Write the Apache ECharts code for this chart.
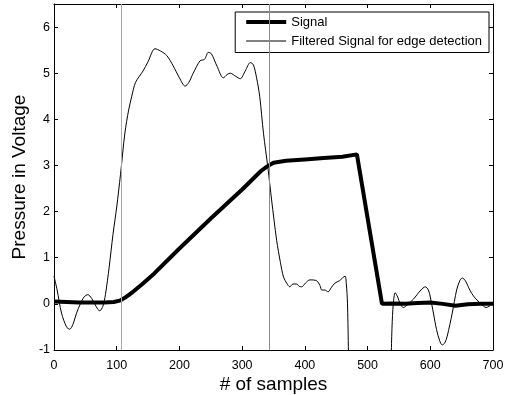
<!DOCTYPE html>
<html>
<head>
<meta charset="utf-8">
<script src="https://cdn.jsdelivr.net/npm/echarts@6/dist/echarts.min.js"></script>
<style>
html,body{margin:0;padding:0;background:#fff;}
#c{width:512px;height:395px;}
</style>
</head>
<body>
<div id="c"></div>
<script>
var signalX = [0,20,40,60,80,95,105,115,125,140,160,200,250,300,330,340,350,370,400,430,460,483,523,540,560,580,600,620,640,660,680,700];
var signalY = [0.05,0.04,0.03,0.03,0.03,0.04,0.07,0.15,0.25,0.42,0.66,1.2,1.85,2.48,2.88,2.98,3.06,3.1,3.13,3.16,3.19,3.24,0,0.01,0.0,0.02,0.03,0.0,-0.04,-0.01,0.0,0.0];

var filteredX = [0,5,12,20,25,30,36,42,48,54,60,65,70,73,78,82,88,94,100,106,113,119,124,130,142,150,161,170,180,190,200,209,215,222,233,240,246,251,260,270,276,281,290,297,305,313,318,323,328,334,341,347,355,361,366,371,376,381,387,391,395,401,408,419,424,427,432,437,442,448,455,464,466,468,470,471,537,539,541,544,548,552,557,565,573,585,592,597,600,605,610,615,619,623,627,635,642,647,651,656,663,670,679,685,689,694,700];
var filteredY = [0.6,0.3,-0.2,-0.5,-0.55,-0.45,-0.2,0.0,0.15,0.2,0.12,0.0,-0.12,-0.15,-0.05,0.2,0.8,1.5,2.1,2.8,3.7,4.2,4.5,4.8,5.05,5.25,5.53,5.48,5.38,5.16,4.9,4.72,4.8,5.0,5.27,5.3,5.45,5.42,5.15,4.9,4.97,5.0,4.93,4.88,5.05,5.23,5.18,4.9,4.5,3.7,2.96,2.25,1.38,0.9,0.58,0.45,0.37,0.43,0.43,0.38,0.37,0.45,0.52,0.5,0.4,0.3,0.3,0.26,0.35,0.45,0.5,0.6,0.45,0.0,-1.5,null,-1.5,-0.5,0.0,0.24,0.15,0.0,-0.08,0.0,0.1,0.3,0.37,0.3,0.15,-0.2,-0.56,-0.8,-0.89,-0.85,-0.7,-0.2,0.3,0.5,0.56,0.5,0.3,0.15,0.02,-0.05,-0.08,-0.05,0.02];

var edgeLines = [107, 343];
var edgeColors = ['#aaaaaa', '#8a8a8a'];
var xTicks = [0,100,200,300,400,500,600,700];
var yTicks = [-1,0,1,2,3,4,5,6];

function pairs(xs, ys){ return xs.map(function(x,i){ return [x, ys[i]]; }); }

var fontFam = '"Liberation Sans", Arial, sans-serif';
var tickStyle = {show: true, inside: true, length: 4, lineStyle: {color: '#000'}};
var lineAx = {show: true, lineStyle: {color: '#000'}, onZero: false};

var chart = echarts.init(document.getElementById('c'), null, {renderer:'canvas'});
chart.setOption({
  animation: false,
  backgroundColor: '#fff',
  grid: {left: 54, right: 19, top: 4, bottom: 45, show: false, containLabel: false, outerBoundsMode: 'none'},
  legend: {
    right: 23, top: 12, orient: 'vertical',
    padding: [3.5, 7, 5, 9],
    itemWidth: 40, itemHeight: 13, itemGap: 6,
    borderColor: '#000', borderWidth: 1, backgroundColor: '#fff',
    textStyle: {fontFamily: fontFam, fontSize: 13, color: '#000'},
    data: [
      {name: 'Signal', itemStyle: {opacity: 0}, lineStyle: {width: 4, color: '#000', opacity: 1}},
      {name: 'Filtered Signal for edge detection', itemStyle: {opacity: 0}, lineStyle: {width: 1, color: '#000', opacity: 1}}
    ]
  },
  xAxis: [{
    type: 'value', min: 0, max: 700, interval: 100,
    name: '# of samples', nameLocation: 'middle', nameGap: 25, nameMoveOverlap: false,
    nameTextStyle: {fontFamily: fontFam, fontSize: 19, color: '#000'},
    axisLine: lineAx, axisTick: tickStyle,
    axisLabel: {fontFamily: fontFam, fontSize: 12.5, color: '#000', margin: 9,
      formatter: function(v){ return xTicks.indexOf(v) >= 0 ? String(v) : ''; }},
    splitLine: {show: false}
  }, {
    type: 'value', min: 0, max: 700, interval: 100, position: 'top',
    axisLine: lineAx, axisTick: tickStyle, axisLabel: {show: false}, splitLine: {show: false}
  }],
  yAxis: [{
    type: 'value', min: -1, max: 6.5, interval: 1,
    name: 'Pressure in Voltage', nameLocation: 'middle', nameGap: 25, nameMoveOverlap: false,
    nameTextStyle: {fontFamily: fontFam, fontSize: 19, color: '#000'},
    axisLine: lineAx, axisTick: tickStyle,
    axisLabel: {fontFamily: fontFam, fontSize: 12.5, color: '#000', margin: 4, showMaxLabel: false,
      formatter: function(v){ return yTicks.indexOf(v) >= 0 ? String(v) : ''; }},
    splitLine: {show: false}
  }, {
    type: 'value', min: -1, max: 6.5, interval: 1, position: 'right',
    axisLine: lineAx, axisTick: tickStyle, axisLabel: {show: false}, splitLine: {show: false}
  }],
  series: [
    {
      name: 'Signal', type: 'line', data: pairs(signalX, signalY),
      showSymbol: false, symbol: 'none',
      lineStyle: {color: '#000', width: 4}, itemStyle: {color: '#000'},
      z: 3
    },
    {
      name: 'Filtered Signal for edge detection', type: 'line', data: pairs(filteredX, filteredY),
      showSymbol: false, symbol: 'none', connectNulls: false, smooth: 0.3,
      lineStyle: {color: '#000', width: 1}, itemStyle: {color: '#000'},
      z: 2,
      markLine: {
        silent: true, symbol: ['none','none'], label: {show: false},
        lineStyle: {width: 1, type: 'solid'},
        data: edgeLines.map(function(v, i){ return {xAxis: v, lineStyle: {color: edgeColors[i]}}; })
      }
    }
  ]
});
</script>
</body>
</html>
